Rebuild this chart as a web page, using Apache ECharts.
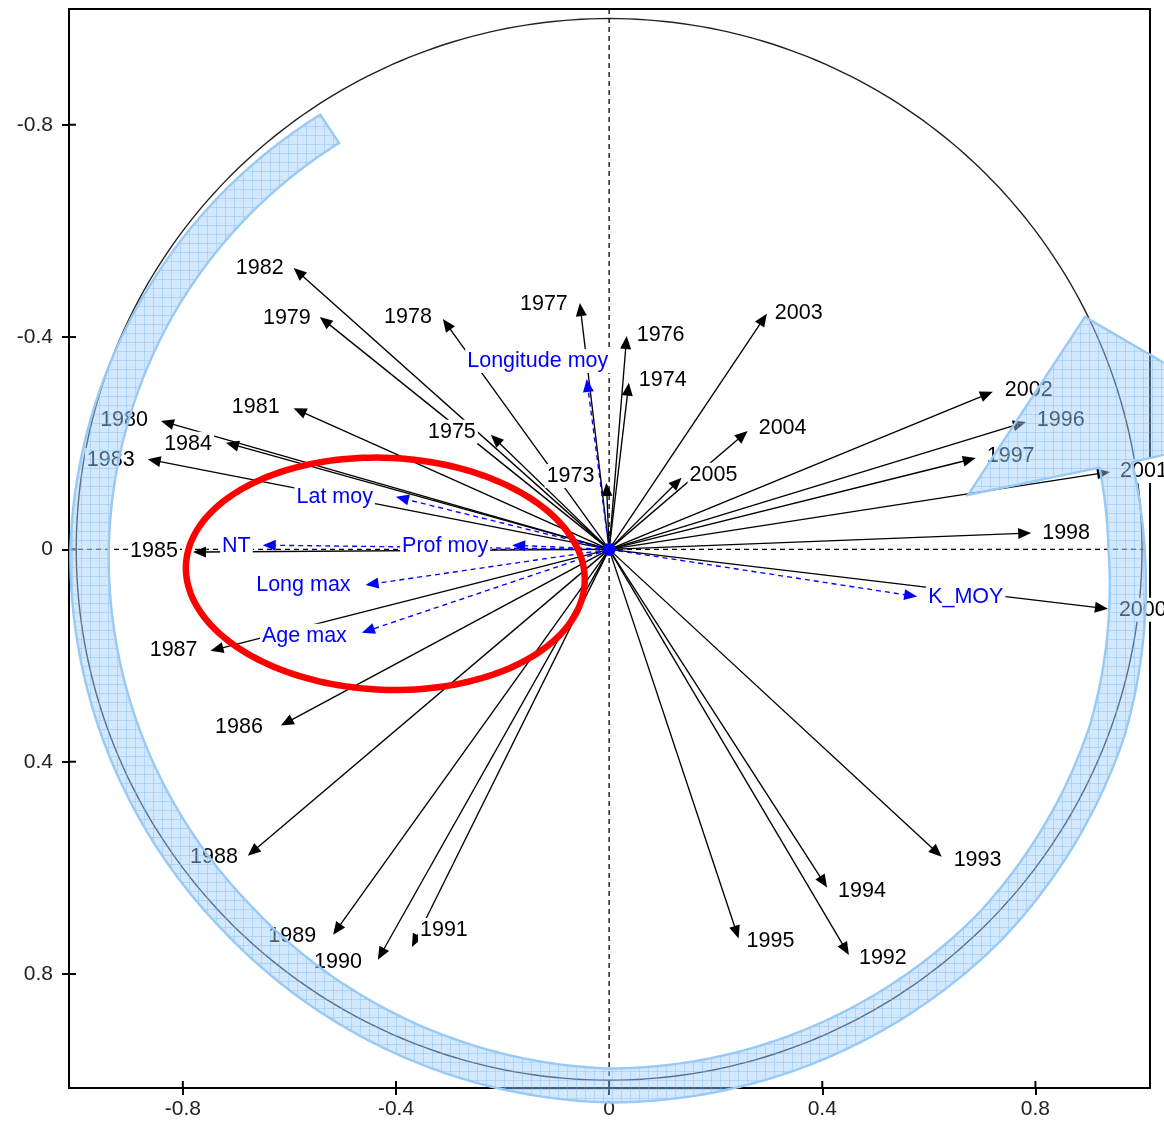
<!DOCTYPE html>
<html>
<head>
<meta charset="utf-8">
<script src="https://cdn.jsdelivr.net/npm/echarts@6.0.0/dist/echarts.min.js"></script>
<style>
  html, body { margin: 0; padding: 0; background: #fff; }
  #chart { width: 1164px; height: 1128px; }
</style>
</head>
<body>
<div id="chart"></div>
<script>
// Years (supplementary individuals) on the correlation circle: axis 1 horizontal, axis 2 vertical (reversed)
const yearNames = ['1973','1974','1975','1976','1977','1978','1979','1980','1981','1982','1983','1984',
  '1985','1986','1987','1988','1989','1990','1991','1992','1993','1994','1995','1996','1997','1998',
  '2000','2001','2002','2003','2004','2005'];
const yearX = [-0.005, 0.037, -0.222, 0.033, -0.055, -0.312, -0.543, -0.841, -0.592, -0.592, -0.866, -0.719,
  -0.781, -0.616, -0.748, -0.678, -0.518, -0.434, -0.370, 0.450, 0.624, 0.409, 0.243, 0.782, 0.688, 0.792,
  0.936, 0.940, 0.720, 0.296, 0.260, 0.136];
const yearY = [-0.125, -0.314, -0.216, -0.402, -0.464, -0.434, -0.438, -0.242, -0.266, -0.530, -0.170, -0.201,
  0.005, 0.332, 0.191, 0.577, 0.726, 0.773, 0.749, 0.764, 0.579, 0.637, 0.733, -0.240, -0.172, -0.031,
  0.112, -0.146, -0.297, -0.444, -0.223, -0.135];

// Active variables
const varNames = ['Longitude moy', 'Lat moy', 'NT', 'Prof moy', 'Long max', 'Age max', 'K_MOY'];
const varX = [-0.042, -0.400, -0.650, -0.182, -0.457, -0.464, 0.578];
const varY = [-0.321, -0.099, -0.008, -0.008, 0.067, 0.157, 0.089];

const tickValues = [-0.8, -0.4, 0, 0.4, 0.8];

// Label placement beside each arrow tip: [dx, dy, align] in pixels
const yearLabelPlace = [
  [-10, -7, 'right'], [8, -3, 'left'], [-13, -3, 'right'], [8, -1, 'left'], [-10, 1, 'right'],
  [-9, -2, 'right'], [-7, 1, 'right'], [-11, -1, 'right'], [-12, -1, 'right'], [-8, 0, 'right'],
  [-11, 1, 'right'], [-12, 1, 'right'], [-13, -1, 'right'], [-16, 1, 'right'], [-11, -1, 'right'],
  [-8, 1, 'right'], [-15, 1, 'right'], [-14, 2, 'right'], [6, -17, 'left'], [8, 3, 'left'],
  [10, 3, 'left'], [9, 4, 'left'], [6, 3, 'left'], [9, -2, 'left'], [9, -2, 'left'],
  [9, 0, 'left'], [9, 1, 'left'], [8, -1, 'left'], [10, -2, 'left'], [6, -1, 'left'],
  [9, -3, 'left'], [6, -3, 'left']
];
const varLabelPlace = [
  [-49, -18, 'center'], [-21, 0, 'right'], [-10, 1, 'right'], [-22, 1, 'right'],
  [-13, 0, 'right'], [-13, 3, 'right'], [9, 0, 'left']
];

const X_MIN = -1.0136, X_MAX = 1.015, Y_MIN = -1.018, Y_MAX = 1.0147;
const FONT_FAMILY = '"Liberation Sans", Arial, sans-serif';
const LABEL_FONT = '21.5px ' + FONT_FAMILY;

// Hand-drawn curved arrow around the circle: [angle deg, centre radius, half width]
const bandKnots = [
  [123.5, 0.950, 0.032], [150, 0.962, 0.033], [180, 0.975, 0.036], [225, 0.985, 0.035],
  [270, 1.010, 0.032], [315, 1.008, 0.033], [340, 0.995, 0.034], [360, 0.971, 0.034],
  [369.5, 0.964, 0.031]
];
// Arrow head of the curved arrow (right base corner, apex, left base corner)
const bandHead = [[1.2533, -0.227], [0.893, -0.438], [0.6734, -0.1026]];
// Highlight ellipse around the left-hand variables
const ringCentre = [-0.420, 0.046], ringRadii = [0.3745, 0.2185], ringTiltDeg = 2.5;

function knotAt(deg) {
  for (let k = 0; k < bandKnots.length - 1; k++) {
    const a = bandKnots[k], b = bandKnots[k + 1];
    if (deg >= a[0] && deg <= b[0]) {
      const t = (deg - a[0]) / (b[0] - a[0]);
      return [a[1] + (b[1] - a[1]) * t, a[2] + (b[2] - a[2]) * t];
    }
  }
  const last = bandKnots[bandKnots.length - 1];
  return [last[1], last[2]];
}

function hatchPattern() {
  const c = document.createElement('canvas');
  c.width = 9; c.height = 9;
  const g = c.getContext('2d');
  g.fillStyle = 'rgba(160,205,250,0.45)';
  g.fillRect(0, 0, 9, 9);
  g.fillStyle = 'rgba(110,180,250,0.35)';
  g.fillRect(0, 0, 9, 1);
  g.fillRect(0, 0, 1, 9);
  return c;
}
const hatch = hatchPattern();

function vectorRenderer(names, place, color, dashed, lineZ) {
  return function (params, api) {
    const i = params.dataIndex;
    const o = api.coord([0, 0]);
    const t = api.coord([api.value(0), api.value(1)]);
    const dx = t[0] - o[0], dy = t[1] - o[1];
    const len = Math.hypot(dx, dy) || 1;
    const ux = dx / len, uy = dy / len;
    const head = 13, half = 5.5;
    const bx = t[0] - ux * head, by = t[1] - uy * head;
    return {
      type: 'group',
      children: [
        { type: 'line', z2: lineZ,
          shape: { x1: o[0], y1: o[1], x2: bx + ux * 3, y2: by + uy * 3 },
          style: { stroke: color, lineWidth: 1.35, lineDash: dashed ? [5, 4] : null } },
        { type: 'polygon', z2: lineZ + 1,
          shape: { points: [[t[0], t[1]], [bx - uy * half, by + ux * half], [bx + uy * half, by - ux * half]] },
          style: { fill: color } },
        { type: 'text', z2: 50,
          style: { text: names[i], x: t[0] + place[i][0], y: t[1] + place[i][1],
                   align: place[i][2], verticalAlign: 'middle', fill: color, font: LABEL_FONT,
                   backgroundColor: '#fff', padding: [1, 2] } }
      ]
    };
  };
}

function frameRenderer(params, api) {
  const children = [];
  // unit circle
  const pts = [];
  for (let d = 0; d <= 360; d += 1) {
    const a = d * Math.PI / 180;
    pts.push(api.coord([Math.cos(a), Math.sin(a)]));
  }
  children.push({ type: 'polyline', shape: { points: pts }, style: { stroke: '#222', lineWidth: 1.4, fill: null } });
  // dashed axes through the origin
  const v0 = api.coord([0, Y_MIN]), v1 = api.coord([0, Y_MAX]);
  const h0 = api.coord([X_MIN, 0]), h1 = api.coord([X_MAX, 0]);
  const dash = { stroke: '#000', lineWidth: 1.3, lineDash: [5, 4] };
  children.push({ type: 'line', shape: { x1: v0[0], y1: v0[1], x2: v1[0], y2: v1[1] }, style: dash });
  children.push({ type: 'line', shape: { x1: h0[0], y1: h0[1], x2: h1[0], y2: h1[1] }, style: dash });
  // inner halves of the axis ticks
  tickValues.forEach(function (v) {
    const b = api.coord([v, Y_MAX]);
    children.push({ type: 'line', shape: { x1: b[0], y1: b[1], x2: b[0], y2: b[1] - 7 }, style: { stroke: '#000', lineWidth: 2 } });
    const l = api.coord([X_MIN, v]);
    children.push({ type: 'line', shape: { x1: l[0], y1: l[1], x2: l[0] + 7, y2: l[1] }, style: { stroke: '#000', lineWidth: 2 } });
  });
  return { type: 'group', children: children };
}

function annotationRenderer(params, api) {
  const children = [];
  // curved arrow band
  const outer = [], inner = [];
  const start = bandKnots[0][0], end = bandKnots[bandKnots.length - 1][0];
  for (let d = start; d <= end + 1e-9; d += 0.5) {
    const k = knotAt(d);
    const a = d * Math.PI / 180;
    outer.push(api.coord([(k[0] + k[1]) * Math.cos(a), -(k[0] + k[1]) * Math.sin(a)]));
    inner.push(api.coord([(k[0] - k[1]) * Math.cos(a), -(k[0] - k[1]) * Math.sin(a)]));
  }
  const poly = outer.concat(bandHead.map(function (p) { return api.coord(p); }), inner.reverse());
  children.push({ type: 'polygon', shape: { points: poly },
    style: { fill: { image: hatch, repeat: 'repeat' }, stroke: '#99c9f5', lineWidth: 2.4, lineJoin: 'miter' } });
  // red ellipse
  const c = api.coord(ringCentre);
  const s = api.size(ringRadii);
  const rx = Math.abs(s[0]), ry = Math.abs(s[1]);
  const al = ringTiltDeg * Math.PI / 180;
  const ep = [];
  for (let d = 0; d < 360; d += 2) {
    const t = d * Math.PI / 180;
    const ex = rx * Math.cos(t), ey = ry * Math.sin(t);
    ep.push([c[0] + ex * Math.cos(al) - ey * Math.sin(al), c[1] + ex * Math.sin(al) + ey * Math.cos(al)]);
  }
  children.push({ type: 'polygon', shape: { points: ep }, style: { fill: null, stroke: '#ff0000', lineWidth: 6.5 } });
  return { type: 'group', children: children };
}

const chart = echarts.init(document.getElementById('chart'), null, { renderer: 'canvas' });

const axisCommon = {
  type: 'value',
  axisLine: { onZero: false, lineStyle: { color: '#000', width: 2 } },
  axisTick: { customValues: tickValues, length: 7, lineStyle: { color: '#000', width: 2 } },
  splitLine: { show: false }
};

chart.setOption({
  animation: false,
  backgroundColor: '#fff',
  grid: { left: 69, right: 14, top: 9, bottom: 40, show: true, borderColor: '#000', borderWidth: 2,
          outerBoundsMode: 'none' },
  xAxis: Object.assign({}, axisCommon, {
    min: X_MIN, max: X_MAX,
    axisLabel: { customValues: tickValues, formatter: function (v) { return String(+(+v).toFixed(1)); },
                 fontSize: 21, color: '#222', fontFamily: FONT_FAMILY, margin: 11 }
  }),
  yAxis: Object.assign({}, axisCommon, {
    min: Y_MIN, max: Y_MAX, inverse: true,
    axisLabel: { customValues: tickValues, formatter: function (v) { return String(+(+v).toFixed(1)); },
                 fontSize: 21, color: '#222', fontFamily: FONT_FAMILY, margin: 16 }
  }),
  series: [
    { type: 'custom', z: 1, clip: false, silent: true, renderItem: frameRenderer, data: [[0, 0]] },
    { type: 'custom', z: 2, clip: false, silent: true,
      renderItem: vectorRenderer(yearNames, yearLabelPlace, '#000', false, 1),
      data: yearX.map(function (x, i) { return [x, yearY[i]]; }) },
    { type: 'custom', z: 2, clip: false, silent: true,
      renderItem: vectorRenderer(varNames, varLabelPlace, '#0000ff', true, 5),
      data: varX.map(function (x, i) { return [x, varY[i]]; }) },
    { type: 'custom', z: 3, clip: false, silent: true, data: [[0, 0]],
      renderItem: function (params, api) {
        const o = api.coord([0, 0]);
        return { type: 'circle', shape: { cx: o[0], cy: o[1], r: 6.5 }, style: { fill: '#0000ff' } };
      } },
    { type: 'custom', z: 10, clip: false, silent: true, renderItem: annotationRenderer, data: [[0, 0]] }
  ]
});
</script>
</body>
</html>
